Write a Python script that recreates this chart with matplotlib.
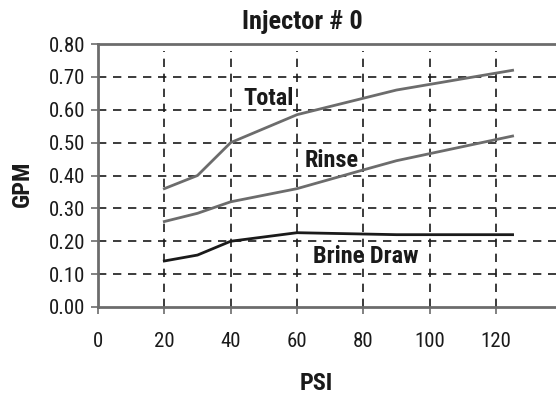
import matplotlib
matplotlib.use("Agg")
import matplotlib.pyplot as plt

plt.rcParams['font.family'] = ['Roboto Condensed', 'Liberation Sans', 'DejaVu Sans']

psi = [20, 30, 40, 60, 80, 90, 125]
total = [0.36, 0.40, 0.50, 0.585, 0.635, 0.66, 0.72]
rinse = [0.26, 0.285, 0.32, 0.36, 0.417, 0.445, 0.52]
brine = [0.14, 0.158, 0.20, 0.226, 0.222, 0.22, 0.22]

x_ticks = [0, 20, 40, 60, 80, 100, 120]
y_ticks = [0.0, 0.1, 0.2, 0.3, 0.4, 0.5, 0.6, 0.7, 0.8]

title = "Injector # 0"
xlabel = "PSI"
ylabel = "GPM"

gray = "#6c6c6c"
dark = "#1a1a1a"

fig = plt.figure(figsize=(5.56, 4.01), dpi=100)
ax = fig.add_axes([98/556, 1-307/401, 1-98/556, (307-44)/401])

ax.plot(psi, total, color=gray, lw=2.0, zorder=3)
ax.plot(psi, rinse, color=gray, lw=2.0, zorder=3)
ax.plot(psi, brine, color=dark, lw=2.0, zorder=3)

ax.set_xlim(0, (556-98)/((496-98)/120))
ax.set_ylim(0, 0.8)
ax.set_xticks(x_ticks)
ax.set_yticks(y_ticks)
ax.set_yticklabels([f"{v:.2f}" for v in y_ticks])
ax.tick_params(labelsize=15, colors=dark, length=5, width=1.2)
ax.tick_params(axis='x', pad=13, color=gray)
ax.tick_params(axis='y', pad=4, color=gray)

for v in x_ticks[1:]:
    ax.axvline(v, ymin=0, ymax=0.975, color=dark, lw=1.2, ls=(0, (5, 4)), zorder=1)
for v in y_ticks[1:-1]:
    ax.axhline(v, color=dark, lw=1.2, ls=(0, (5, 4)), zorder=1)

for s in ['left', 'top', 'bottom']:
    ax.spines[s].set_color(gray)
    ax.spines[s].set_linewidth(2)
ax.spines['right'].set_visible(False)

ax.text(51.5, 0.633, "Total", fontsize=17.5, fontweight='bold', color=dark,
        ha='center', va='center', zorder=4)
ax.text(70.6, 0.446, "Rinse", fontsize=17.5, fontweight='bold', color=dark,
        ha='center', va='center', zorder=4)
ax.text(80.6, 0.155, "Brine Draw", fontsize=17.5, fontweight='bold', color=dark,
        ha='center', va='center', zorder=4)

fig.text(302/556, 1-22/401, title, fontsize=19, fontweight='bold', color=dark,
         ha='center', va='center')
fig.text(316/556, 1-384/401, xlabel, fontsize=17.5, fontweight='bold', color=dark,
         ha='center', va='center')
fig.text(22/556, 1-184/401, ylabel, fontsize=17.5, fontweight='bold', color=dark,
         ha='center', va='center', rotation=90)

fig.savefig("out.png", dpi=100)
